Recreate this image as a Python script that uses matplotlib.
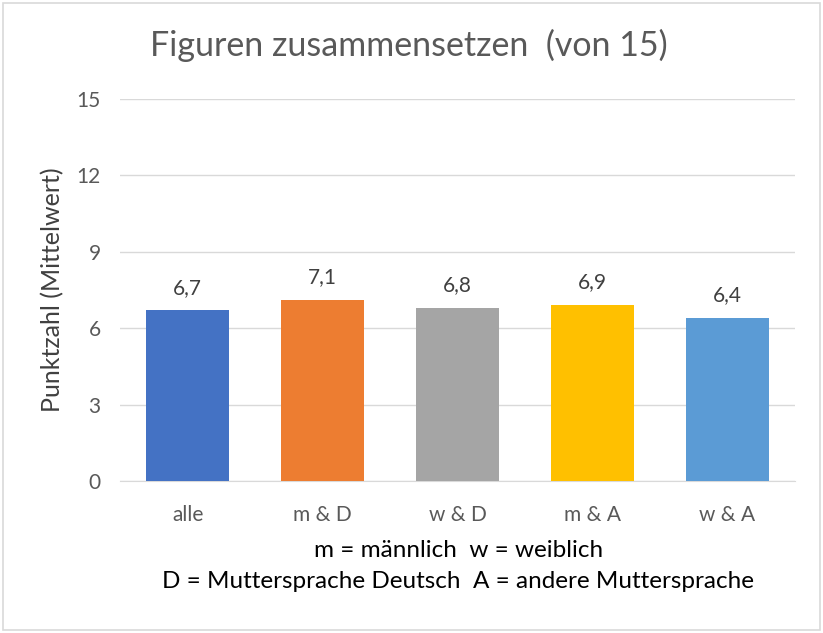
import matplotlib
matplotlib.use('Agg')
from matplotlib import pyplot as plt
from matplotlib.patches import Rectangle

plt.rcParams['font.family'] = ['Lato', 'DejaVu Sans']

categories = ['alle', 'm & D', 'w & D', 'm & A', 'w & A']
values = [6.7, 7.1, 6.8, 6.9, 6.4]
colors = ['#4472C4', '#ED7D31', '#A5A5A5', '#FFC000', '#5B9BD5']
yticks = [0, 3, 6, 9, 12, 15]

fig = plt.figure(figsize=(8.23, 6.33), dpi=100)
ax = fig.add_axes([0.146, 0.24, 0.82, 0.6036])

x = range(len(categories))
ax.bar(x, values, width=0.62, color=colors, zorder=3)
for i, v in zip(x, values):
    ax.text(i, v + 0.5, '{:.1f}'.format(v).replace('.', ','), ha='center', va='bottom',
            fontsize=15, color='#404040')

ax.set_xlim(-0.5, len(categories) - 0.5)
ax.set_ylim(0, 15)
ax.set_yticks(yticks)
ax.set_xticks(list(x))
ax.set_xticklabels(categories)
ax.tick_params(axis='both', length=0, labelsize=15, labelcolor='#595959')
ax.tick_params(axis='x', pad=17)
ax.tick_params(axis='y', pad=14)
ax.grid(axis='y', color='#D9D9D9', linewidth=1, zorder=0)
for s in ['top', 'right', 'left']:
    ax.spines[s].set_visible(False)
ax.spines['bottom'].set_color('#D9D9D9')

ax.set_ylabel('Punktzahl (Mittelwert)', fontsize=18, color='#404040', labelpad=9)

fig.text(0.497, 0.928, 'Figuren zusammensetzen  (von 15)', ha='center', va='center',
         fontsize=24.5, color='#595959')
fig.text(0.557, 0.131, 'm = männlich  w = weiblich', ha='center', va='center',
         fontsize=17.5, color='#000000')
fig.text(0.557, 0.081, 'D = Muttersprache Deutsch  A = andere Muttersprache', ha='center',
         va='center', fontsize=17.5, color='#000000')

fig.patches.append(Rectangle((0.004, 0.004), 0.992, 0.992, transform=fig.transFigure,
                             fill=False, edgecolor='#D9D9D9', linewidth=1.2))

plt.savefig('out.png', dpi=100)
